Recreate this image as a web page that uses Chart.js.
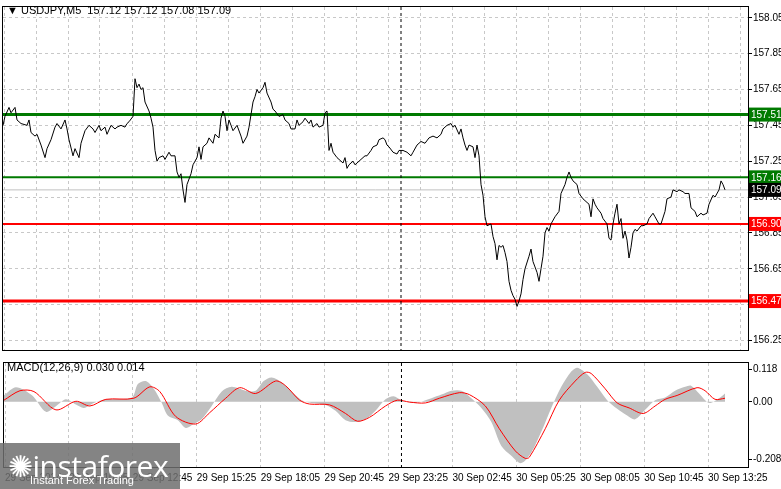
<!DOCTYPE html>
<html><head><meta charset="utf-8">
<script src="https://cdn.jsdelivr.net/npm/chart.js@4"></script>
<style>
body{margin:0;background:#fff;width:781px;height:489px;overflow:hidden;position:relative;font-family:"Liberation Sans",sans-serif}
#m{position:absolute;left:0;top:0;width:781px;height:357px}
#d{position:absolute;left:0;top:356px;width:781px;height:133px}
.t{position:absolute;font-size:11px;color:#000;white-space:pre}
#logo{position:absolute;left:0;top:443px;width:180px;height:46px;background:rgba(110,110,110,0.85);color:#fff}
</style></head><body>
<div id="m"><canvas id="c1"></canvas></div>
<div id="d"><canvas id="c2"></canvas></div>
<div class="t" style="left:7px;top:4px">▼ USDJPY,M5  157.12 157.12 157.08 157.09</div>
<div class="t" style="left:7px;top:361px">MACD(12,26,9) 0.030 0.014</div>
<div id="logo"><div style="position:absolute;left:8px;top:2px;font-size:30px;font-family:'Open Sans',sans-serif;letter-spacing:-0.5px">✺instaforex</div><div style="position:absolute;left:30px;top:31px;font-size:11px">Instant Forex Trading</div></div>
<script>
// time index (5-minute bars) and close prices
const bars=[0,1,3,4,6,7,9,12,13,14,16,17,19,21,22,24,26,27,29,31,32,33,35,36,38,39,41,43,45,46,48,49,51,52,54,56,57,59,61,62,63,65,66,67,68,69,70,71,73,74,75,76,77,78,80,81,83,84,86,87,88,89,90,91,92,94,95,97,98,99,100,102,103,105,106,108,109,110,111,112,113,114,115,117,119,120,122,123,125,126,127,128,130,131,132,134,135,136,138,140,141,143,144,146,147,148,150,151,153,154,155,157,158,160,161,162,163,164,165,167,168,170,171,172,173,175,176,178,179,181,182,184,185,187,188,190,191,192,193,195,197,198,200,202,204,205,207,209,211,213,215,217,219,220,222,224,225,226,228,229,230,231,232,233,235,236,237,238,239,240,241,242,244,245,246,247,248,249,250,251,252,253,254,255,256,257,258,259,260,261,263,264,265,266,267,268,269,270,271,272,273,274,276,278,279,281,282,283,284,285,287,288,290,291,293,294,295,296,297,299,300,302,303,304,305,306,307,308,309,310,311,312,313,314,315,316,317,319,320,322,323,325,326,328,329,331,332,334,335,337,338,340,341,343,344,346,347,349,350,352,353,355,356,358,359,360,361];
const prices=[157.45,157.50,157.55,157.52,157.55,157.48,157.46,157.45,157.48,157.41,157.39,157.40,157.34,157.27,157.32,157.37,157.44,157.46,157.43,157.48,157.43,157.37,157.28,157.32,157.27,157.35,157.42,157.45,157.43,157.41,157.45,157.42,157.44,157.40,157.45,157.43,157.44,157.45,157.44,157.46,157.47,157.50,157.71,157.66,157.68,157.65,157.66,157.58,157.53,157.49,157.44,157.31,157.25,157.27,157.28,157.26,157.30,157.28,157.28,157.19,157.16,157.18,157.09,157.02,157.12,157.18,157.23,157.27,157.33,157.26,157.33,157.35,157.38,157.35,157.40,157.38,157.49,157.53,157.50,157.42,157.48,157.45,157.42,157.45,157.39,157.35,157.39,157.44,157.58,157.61,157.65,157.63,157.66,157.69,157.63,157.58,157.54,157.53,157.50,157.51,157.48,157.46,157.43,157.43,157.48,157.45,157.47,157.49,157.46,157.48,157.44,157.46,157.44,157.45,157.52,157.53,157.31,157.35,157.30,157.27,157.26,157.24,157.27,157.21,157.23,157.25,157.23,157.25,157.26,157.28,157.28,157.31,157.33,157.34,157.37,157.38,157.37,157.34,157.33,157.30,157.29,157.31,157.31,157.30,157.28,157.30,157.34,157.36,157.35,157.38,157.39,157.38,157.40,157.43,157.45,157.46,157.44,157.45,157.40,157.43,157.38,157.34,157.31,157.34,157.33,157.27,157.34,157.28,157.12,157.06,156.94,156.89,156.90,156.83,156.79,156.70,156.78,156.77,156.78,156.74,156.69,156.58,156.53,156.50,156.48,156.44,156.47,156.51,156.59,156.65,156.72,156.76,156.69,156.66,156.63,156.58,156.65,156.72,156.85,156.88,156.86,156.90,156.94,156.97,157.07,157.12,157.16,157.19,157.16,157.14,157.12,157.07,157.04,157.03,157.01,156.94,157.04,157.01,156.99,156.96,156.93,156.90,156.82,156.81,156.90,156.96,157.01,156.90,156.93,156.82,156.86,156.81,156.71,156.77,156.85,156.87,156.86,156.89,156.89,156.90,156.93,156.96,156.94,156.90,156.90,156.97,157.04,157.05,157.09,157.08,157.09,157.08,157.07,157.07,156.99,156.97,156.94,156.96,156.95,156.96,157.01,157.06,157.05,157.09,157.14,157.12,157.09];
const histBars=[0,6,14,21,26,31,36,40,45,51,64,67,71,75,79,82,87,91,95,99,104,109,114,121,126,130,134,139,144,149,154,161,166,171,176,181,186,191,195,199,206,214,219,224,229,234,239,244,249,254,259,264,269,274,279,284,287,292,297,302,307,312,316,321,326,331,336,341,344,348,353,358,361];
const histVals=[0.024,0.053,0.024,-0.036,-0.016,0.009,-0.010,-0.022,-0.004,0.009,0.016,0.064,0.075,0.047,-0.004,-0.049,-0.066,-0.094,-0.080,-0.063,-0.015,0.037,0.054,0.040,0.040,0.075,0.088,0.071,0.037,0.006,-0.004,-0.011,-0.032,-0.066,-0.073,-0.063,-0.032,0.009,0.020,0.006,-0.004,0.013,0.026,0.040,0.040,0.013,-0.022,-0.073,-0.159,-0.194,-0.221,-0.183,-0.108,-0.022,0.054,0.109,0.123,0.099,0.054,0.006,-0.025,-0.049,-0.063,-0.029,0.006,0.016,0.040,0.054,0.058,0.030,-0.004,0.013,0.030];
const sigBars=[0,8,15,26,36,43,51,65,73,78,86,96,103,111,118,126,136,141,148,153,163,171,177,183,191,197,203,211,218,228,233,241,248,256,261,263,271,278,286,291,294,301,307,313,320,326,331,337,347,351,356,361];
const sigVals=[0.006,0.040,0.037,-0.029,0.002,-0.015,0.009,0.013,0.054,0.037,-0.053,-0.080,-0.039,0.013,0.051,0.030,0.075,0.058,0.006,-0.008,-0.011,-0.042,-0.070,-0.056,-0.015,0.006,-0.001,-0.004,0.013,0.033,0.026,-0.015,-0.097,-0.177,-0.204,-0.200,-0.097,0.006,0.075,0.106,0.102,0.047,-0.004,-0.022,-0.042,-0.015,0.009,0.023,0.051,0.040,0.009,0.013];
const priceTicks=[158.05,157.85,157.65,157.45,157.25,157.05,156.85,156.65,156.45,156.25];
const macdTicks=[0.118,0,-0.208];
const timeLabels=["29 Sep 2024","29 Sep 10:05","29 Sep 12:45","29 Sep 15:25","29 Sep 18:05","29 Sep 20:45","29 Sep 23:25","30 Sep 02:45","30 Sep 05:25","30 Sep 08:05","30 Sep 10:45","30 Sep 13:25"];
const levels=[157.51,157.16,156.90,156.47];
const levelColors=["#007a00","#007a00","#ff0000","#ff0000"];
const levelWidths=[3,2,2,3];
const current=157.09;
const separator=199;
const XMIN=0,XMAX=372.5;

Chart.defaults.font.family="'Liberation Sans',sans-serif";
Chart.defaults.font.size=10;
Chart.defaults.color="#000";
const frame={id:'frame',afterDraw(c){const a=c.chartArea,x=c.ctx;x.save();
 const sx=c.scales.x.getPixelForValue(separator);x.strokeStyle='#000';x.setLineDash([3,3]);x.beginPath();x.moveTo(sx,a.top);x.lineTo(sx,a.bottom);x.stroke();
 x.setLineDash([]);x.lineWidth=1;x.strokeRect(a.left-0.5,a.top-0.5,a.right-a.left+1,a.bottom-a.top+1);x.restore();}};
const tags={id:'tags',afterDraw(c){const y=c.scales.y,a=c.chartArea,x=c.ctx;x.save();x.font="10px 'Liberation Sans'";x.textBaseline='middle';x.textAlign='left';
 const all=levels.map((v,i)=>[v,levelColors[i]]).concat([[current,'#000']]);
 all.forEach(([v,col])=>{const py=y.getPixelForValue(v);x.fillStyle=col;x.fillRect(a.right+1,py-7,33,14);x.fillStyle='#fff';x.fillText(v.toFixed(2),a.right+3,py+0.5);});x.restore();}};
function xs(step,lab){return {type:'linear',min:XMIN,max:XMAX,
 afterBuildTicks(s){const t=[];for(let v=0.5;v<XMAX;v+=step)t.push({value:v});s.ticks=t;},
 grid:{color:'#c8c8c8',lineWidth:1,drawTicks:false},border:{display:false,dash:[3,3]},
 ticks:{display:lab,autoSkip:false,maxRotation:0,align:'start',padding:5,callback:(v)=>{const k=Math.round((v-0.5)/32);return timeLabels[k]||'';}},
 afterFit(s){s.height=lab?22:2;}};}

new Chart(document.getElementById('c1'),{type:'line',
 data:{datasets:[
  {data:bars.map((b,i)=>({x:b,y:prices[i]})),borderColor:'#000',borderWidth:1,pointRadius:0,order:0},
  {data:[{x:XMIN,y:current},{x:XMAX,y:current}],borderColor:'#c0c0c0',borderWidth:1,pointRadius:0,order:2},
  ...levels.map((v,i)=>({data:[{x:XMIN,y:v},{x:XMAX,y:v}],borderColor:levelColors[i],borderWidth:levelWidths[i],pointRadius:0,order:1}))
 ]},
 options:{responsive:true,maintainAspectRatio:false,animation:false,layout:{padding:{left:3,top:3,right:0,bottom:0}},
  plugins:{legend:{display:false},tooltip:{enabled:false}},
  scales:{x:xs(16,false),
   y:{position:'right',min:156.197,max:158.11,
    afterBuildTicks(s){s.ticks=priceTicks.map(v=>({value:v}));},
    grid:{color:'#c8c8c8',tickColor:'#000',tickLength:4,drawOnChartArea:true},border:{display:false,dash:[3,3]},
    ticks:{padding:1,callback:v=>v.toFixed(2)},afterFit(s){s.width=33;}}}},
 plugins:[frame,tags]});

new Chart(document.getElementById('c2'),{type:'line',
 data:{datasets:[
  {data:sigBars.map((b,i)=>({x:b,y:sigVals[i]})),borderColor:'#ff0000',borderWidth:1,pointRadius:0,tension:0.3,order:0},
  {data:histBars.map((b,i)=>({x:b,y:histVals[i]})),borderWidth:0,backgroundColor:'#c0c0c0',fill:'origin',pointRadius:0,tension:0.3,order:1}
 ]},
 options:{responsive:true,maintainAspectRatio:false,animation:false,layout:{padding:{left:3,top:2,right:0,bottom:0}},
  plugins:{legend:{display:false},tooltip:{enabled:false}},
  scales:{x:xs(32,true),
   y:{position:'right',min:-0.235,max:0.14,
    afterBuildTicks(s){s.ticks=macdTicks.map(v=>({value:v}));},
    grid:{drawOnChartArea:false,tickColor:'#000',tickLength:4},border:{display:false},
    ticks:{padding:1,callback:v=>v===0?'0.00':String(v)},afterFit(s){s.width=33;}}}},
 plugins:[frame]});
</script></body></html>
